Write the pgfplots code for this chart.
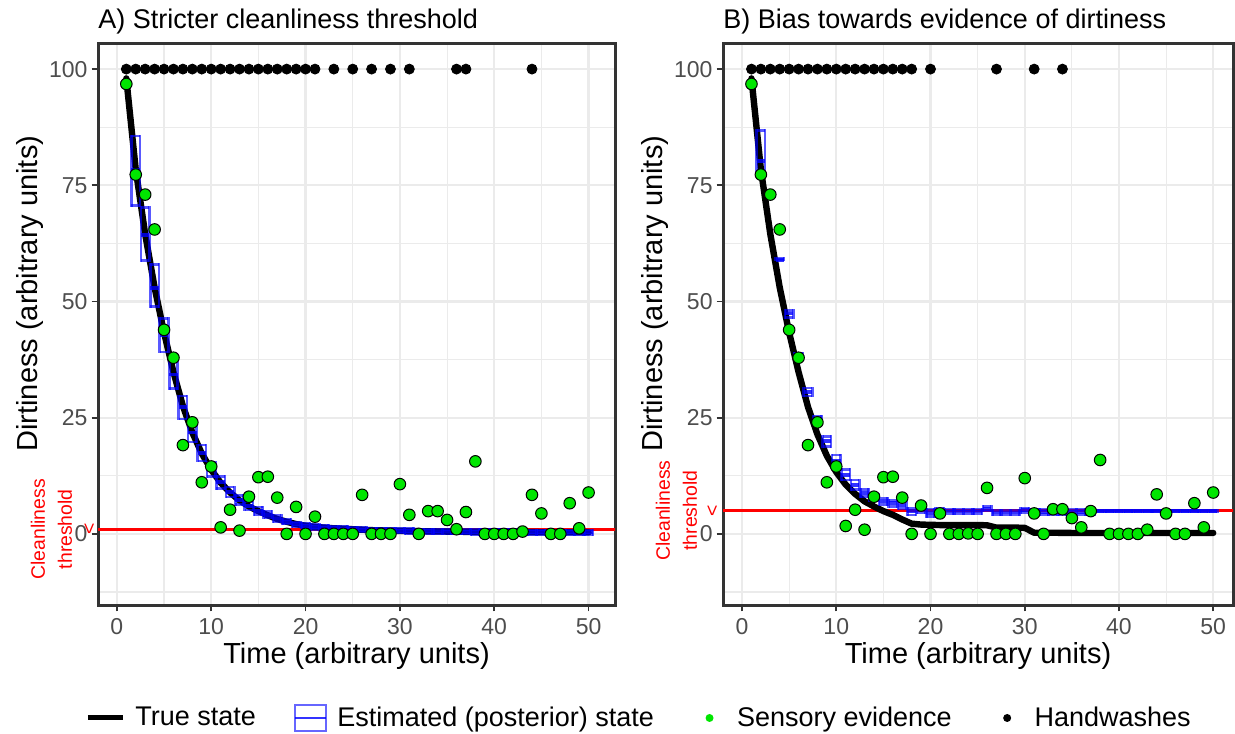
\documentclass[border=0pt]{standalone}
\usepackage{pgfplots}
\pgfplotsset{compat=1.18}
\usepackage{pgfplotstable}
\usepackage{fontspec}
\setmainfont{Liberation Sans}
\definecolor{gridc}{HTML}{EBEBEB}
\definecolor{framec}{HTML}{333333}
\definecolor{tickc}{HTML}{4D4D4D}
\definecolor{ptgreen}{HTML}{00E600}
\definecolor{thr}{HTML}{FF0000}

\pgfplotstableread{
t v
1 98
2 78.4
3 64.5
4 53.0
5 43.3
6 34.8
7 27.5
8 21.8
9 17.3
10 13.8
11 11.0
12 8.9
13 7.2
14 5.9
15 4.9
16 4.0
17 3.2
18 2.6
19 2.1
20 1.75
21 1.5
22 1.35
23 1.2
24 1.1
25 1.0
26 0.9
27 0.8
28 0.75
29 0.7
30 0.65
31 0.6
32 0.58
33 0.55
34 0.52
35 0.5
36 0.47
37 0.44
38 0.43
39 0.42
40 0.41
41 0.4
42 0.4
43 0.39
44 0.37
45 0.36
46 0.36
47 0.35
48 0.35
49 0.35
50 0.35
}\trueA

\pgfplotstableread{
t v
1 98
2 78.4
3 64.5
4 53.0
5 43.3
6 34.8
7 27.3
8 21.4
9 16.8
10 13.3
11 10.6
12 8.6
13 7.0
14 5.9
15 4.9
16 4.1
17 3.1
18 2.2
19 2.0
20 1.95
21 1.9
22 1.9
23 1.9
24 1.9
25 1.9
26 1.85
27 1.35
28 1.35
29 1.35
30 1.3
31 0.25
32 0.25
33 0.25
34 0.22
35 0.2
36 0.2
37 0.2
38 0.2
39 0.2
40 0.2
41 0.2
42 0.2
43 0.2
44 0.2
45 0.2
46 0.2
47 0.2
48 0.2
49 0.2
50 0.2
}\trueB

\pgfplotstableread{
t lo mid hi
2 70.6 78.4 85.6
3 58.8 64.3 70.2
4 48.9 52.9 57.9
5 39.1 42.8 46.4
6 31.3 34.3 37.4
7 24.7 27.3 29.7
8 19.8 21.8 23.8
9 15.7 17.4 19.1
10 12.4 13.9 15.4
11 9.8 11.1 12.4
12 7.9 9.0 10.1
13 6.3 7.3 8.3
14 5.1 6.0 6.9
15 4.2 5.0 5.8
16 3.4 4.1 4.8
17 2.7 3.3 3.9
18 2.1 2.6 3.1
19 1.6 2.1 2.6
20 1.25 1.75 2.25
21 1.0 1.5 2.0
22 0.85 1.35 1.85
23 0.7 1.2 1.7
24 0.6 1.1 1.6
25 0.5 1.0 1.5
26 0.4 0.9 1.4
27 0.3 0.8 1.3
28 0.25 0.75 1.25
29 0.2 0.7 1.2
30 0.15 0.65 1.15
31 0.1 0.6 1.1
32 0.08 0.58 1.08
33 0.05 0.55 1.05
34 0.02 0.52 1.02
35 0.0 0.5 1.0
36 -0.03 0.47 0.97
37 -0.06 0.44 0.94
38 -0.07 0.43 0.93
39 -0.08 0.42 0.92
40 -0.09 0.41 0.91
41 -0.1 0.4 0.9
42 -0.1 0.4 0.9
43 -0.11 0.39 0.89
44 -0.13 0.37 0.87
45 -0.14 0.36 0.86
46 -0.14 0.36 0.86
47 -0.15 0.35 0.85
48 -0.15 0.35 0.85
49 -0.15 0.35 0.85
50 -0.15 0.35 0.85
}\postA

\pgfplotstableread{
t lo mid hi
2 78.1 80.3 86.8
3 72.6 73.0 73.4
4 58.9 59.0 59.2
5 46.6 47.4 48.1
6 37.8 38.3 38.8
7 29.7 30.6 31.4
8 24.0 24.6 25.2
9 18.8 19.9 20.9
10 14.5 15.8 17.0
11 11.6 12.7 13.8
12 9.5 10.6 11.6
13 8.0 8.8 9.6
14 7.2 7.9 8.6
15 6.3 7.0 7.7
16 5.9 6.6 7.2
17 5.4 6.1 6.8
18 4.1 4.9 5.6
19 4.6 5.3 6.0
20 3.8 4.5 5.2
21 4.2 4.8 5.4
22 4.3 4.8 5.3
23 4.3 4.8 5.3
24 4.3 4.8 5.3
25 4.3 4.8 5.3
26 4.9 5.4 5.9
27 4.1 4.6 5.1
28 4.1 4.6 5.1
29 4.1 4.6 5.1
30 4.6 5.1 5.6
31 4.2 4.7 5.2
32 4.2 4.7 5.2
33 4.2 4.7 5.2
34 4.2 4.7 5.2
35 4.2 4.7 5.2
36 4.2 4.7 5.2
37 4.2 4.7 5.2
38 4.85 5.0 5.15
39 4.85 5.0 5.15
40 4.85 5.0 5.15
41 4.85 5.0 5.15
42 4.85 5.0 5.15
43 4.85 5.0 5.15
44 4.85 5.0 5.15
45 4.85 5.0 5.15
46 4.85 5.0 5.15
47 4.85 5.0 5.15
48 4.85 5.0 5.15
49 4.85 5.0 5.15
50 4.85 5.0 5.15
}\postB

\pgfplotstableread{
t v
1 96.8
2 77.3
3 73.0
4 65.5
5 43.9
6 37.9
7 19.1
8 24.0
9 11.1
10 14.5
11 1.4
12 5.2
13 0.7
14 8.0
15 12.2
16 12.3
17 7.8
18 0
19 5.8
20 0
21 3.7
22 0
23 0
24 0
25 0
26 8.4
27 0
28 0
29 0
30 10.7
31 4.1
32 0
33 4.9
34 4.9
35 3.0
36 1.0
37 4.7
38 15.6
39 0
40 0
41 0
42 0
43 0.5
44 8.4
45 4.4
46 0
47 0
48 6.6
49 1.2
50 8.9
}\evA

\pgfplotstableread{
t v
1 96.8
2 77.3
3 73.0
4 65.5
5 43.9
6 37.9
7 19.1
8 24.0
9 11.1
10 14.5
11 1.7
12 5.2
13 0.9
14 8.0
15 12.2
16 12.3
17 7.8
18 0
19 6.1
20 0
21 4.4
22 0
23 0
24 0.1
25 0
26 9.9
27 0
28 0
29 0
30 12.0
31 4.4
32 0
33 5.3
34 5.3
35 3.4
36 1.4
37 4.9
38 15.9
39 0
40 0
41 0
42 0
43 0.9
44 8.5
45 4.4
46 0
47 0
48 6.6
49 1.4
50 8.9
}\evB

\newcommand{\crossbars}[1]{%
\addplot[draw=none, mark=none, forget plot, error bars/.cd, y dir=plus, y explicit, error mark=none,
  error bar style={draw=blue, draw opacity=0.65, line width=1.3pt, line cap=rect}]
  table[x expr=\thisrow{t}-0.45, y=lo, y error plus expr=\thisrow{hi}-\thisrow{lo}] {#1};
\addplot[draw=none, mark=none, forget plot, error bars/.cd, y dir=plus, y explicit, error mark=none,
  error bar style={draw=blue, draw opacity=0.65, line width=1.3pt, line cap=rect}]
  table[x expr=\thisrow{t}+0.45, y=lo, y error plus expr=\thisrow{hi}-\thisrow{lo}] {#1};
\addplot[draw=none, mark=none, forget plot, error bars/.cd, x dir=plus, x fixed=0.9, error mark=none,
  error bar style={draw=blue, draw opacity=0.65, line width=1.3pt}]
  table[x expr=\thisrow{t}-0.45, y=lo] {#1};
\addplot[draw=none, mark=none, forget plot, error bars/.cd, x dir=plus, x fixed=0.9, error mark=none,
  error bar style={draw=blue, draw opacity=0.65, line width=1.3pt}]
  table[x expr=\thisrow{t}-0.45, y=hi] {#1};
\addplot[draw=none, mark=none, forget plot, error bars/.cd, x dir=plus, x fixed=0.9, error mark=none,
  error bar style={draw=blue, draw opacity=0.8, line width=1.9pt}]
  table[x expr=\thisrow{t}-0.45, y=mid] {#1};
}

\pgfplotsset{
 myaxis/.style={
  scale only axis, height=280.5pt,
  ymin=-15.3, ymax=105.4,
  xtick={0,10,...,50}, ytick={0,25,50,75,100},
  minor xtick={5,15,...,45}, minor ytick={-12.5,12.5,37.5,62.5,87.5},
  grid=both,
  major grid style={gridc, line width=1.1pt},
  minor grid style={gridc, line width=0.55pt},
  axis line style={framec, line width=1.5pt},
  tick align=outside, tick pos=left,
  major tick length=3.2pt, minor tick length=0pt,
  major tick style={framec, line width=0.9pt},
  tick label style={tickc, font=\fontsize{11.5}{13}\selectfont},
  yticklabel style={xshift=1.5pt},
  /pgf/number format/assume math mode=true,
  xlabel={Time (arbitrary units)}, ylabel={Dirtiness (arbitrary units)},
  every axis x label/.style={at={(axis description cs:0.5,0)}, anchor=center, yshift=-25.5pt, font=\fontsize{14.5}{16}\selectfont, black},
  every axis title shift=0pt,
  title style={font=\fontsize{13.5}{15}\selectfont, at={(axis description cs:0,1)}, anchor=base west, yshift=7.7pt, inner sep=0pt},
 }
}

\begin{document}
\begin{tikzpicture}
\useasboundingbox (-49pt,-64pt) rectangle (568.5pt,302.5pt);
\begin{axis}[myaxis, width=258.5pt, xmin=-2.0, xmax=52.8,
  every axis y label/.style={at={(axis description cs:-0.1315,0.555)}, anchor=center, rotate=90, font=\fontsize{14.5}{16}\selectfont, black},
  title={A) Stricter cleanliness threshold},
  legend columns=4, legend cell align=left,
  legend style={draw=none, fill=none, at={(axis description cs:-0.025,-0.2014)}, anchor=west,
    inner sep=0pt, font=\fontsize{13.5}{15}\selectfont,
    /tikz/every odd column/.append style={column sep=3pt},
    /tikz/every even column/.append style={column sep=17pt}},
]
\addplot[thr, line width=1.3pt, forget plot] coordinates {(-10,1) (60,1)};
\addplot[black, line width=3.2pt, line join=round, line cap=round, forget plot] table[x=t, y=v] {\trueA};
\crossbars{\postA}
\addplot[only marks, mark=*, mark size=2.9pt, mark options={fill=ptgreen, draw=black, line width=0.5pt}, forget plot] table[x=t, y=v] {\evA};
\addplot[only marks, mark=*, mark size=2.5pt, black, forget plot] coordinates {
(1,100) (2,100) (3,100) (4,100) (5,100) (6,100) (7,100) (8,100) (9,100) (10,100)
(11,100) (12,100) (13,100) (14,100) (15,100) (16,100) (17,100) (18,100) (19,100) (20,100)
(21,100) (23,100) (25,100) (27,100) (29,100) (31,100) (36,100) (37,100) (44,100)};
\coordinate (thA) at (axis cs:-2.0,1);
\addlegendimage{legend image code/.code={\draw[draw=black, line width=2.5pt] (0pt,0pt) -- (17.5pt,0pt);}}
\addlegendentry{True state}
\addlegendimage{legend image code/.code={\draw[draw=blue, draw opacity=0.6, line width=1.2pt, fill=none] (1pt,-6.5pt) rectangle (16.5pt,6.5pt); \draw[draw=blue, draw opacity=0.8, line width=1.2pt] (1pt,0pt) -- (16.5pt,0pt);}}
\addlegendentry{Estimated (posterior) state}
\addlegendimage{legend image code/.code={\path[draw=none, fill=none] (0pt,0pt) -- (17.5pt,0pt); \path[draw=none, fill=ptgreen] (8.75pt,0pt) circle (2pt);}}
\addlegendentry{Sensory evidence}
\addlegendimage{legend image code/.code={\path[draw=none, fill=none] (0pt,0pt) -- (17.5pt,0pt); \path[draw=none, fill=black] (8.75pt,0pt) circle (2pt);}}
\addlegendentry{Handwashes}
\end{axis}

\begin{axis}[myaxis, at={(312.5pt,0pt)}, width=255pt, xmin=-2.02, xmax=52.1,
  every axis y label/.style={at={(axis description cs:-0.1333,0.555)}, anchor=center, rotate=90, font=\fontsize{14.5}{16}\selectfont, black},
  title={B) Bias towards evidence of dirtiness},
]
\addplot[thr, line width=1.3pt, forget plot] coordinates {(-10,5) (60,5)};
\addplot[black, line width=3.2pt, line join=round, line cap=round, forget plot] table[x=t, y=v] {\trueB};
\crossbars{\postB}
\addplot[only marks, mark=*, mark size=2.9pt, mark options={fill=ptgreen, draw=black, line width=0.5pt}, forget plot] table[x=t, y=v] {\evB};
\addplot[only marks, mark=*, mark size=2.5pt, black, forget plot] coordinates {
(1,100) (2,100) (3,100) (4,100) (5,100) (6,100) (7,100) (8,100) (9,100) (10,100)
(11,100) (12,100) (13,100) (14,100) (15,100) (16,100) (17,100) (18,100) (20,100)
(27,100) (31,100) (34,100)};
\coordinate (thB) at (axis cs:-2.02,5);
\end{axis}

\node[rotate=90, thr, font=\fontsize{9.7}{13.5}\selectfont, align=center] at ([xshift=-23.25pt]thA) {Cleanliness\\threshold};
\node[rotate=90, thr, font=\fontsize{9.7}{12}\selectfont, inner sep=0pt] at ([xshift=-4pt]thA) {<};
\node[rotate=90, thr, font=\fontsize{9.7}{13.5}\selectfont, align=center] at ([xshift=-23.25pt]thB) {Cleanliness\\threshold};
\node[rotate=90, thr, font=\fontsize{9.7}{12}\selectfont, inner sep=0pt] at ([xshift=-5pt]thB) {<};
\end{tikzpicture}
\end{document}
